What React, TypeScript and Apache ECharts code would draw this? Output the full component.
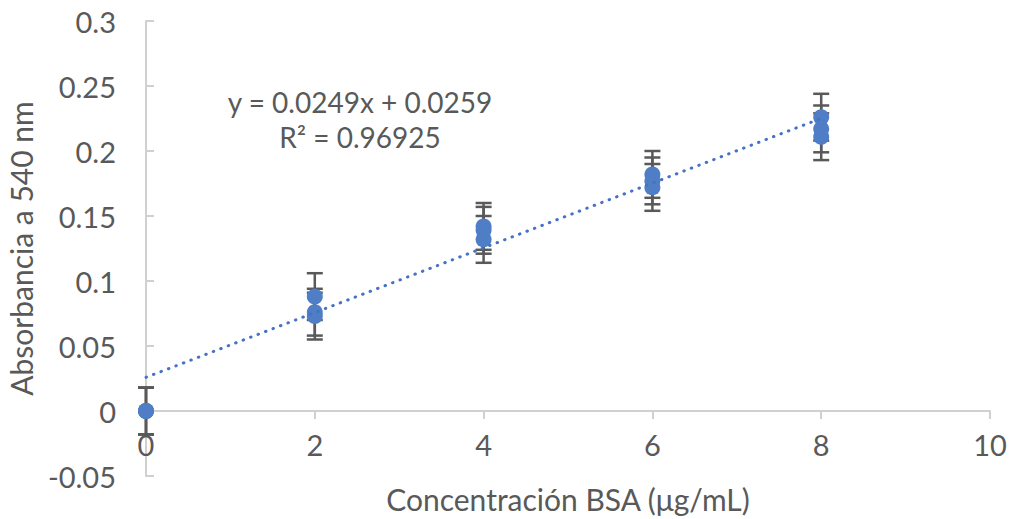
import React, { useEffect, useRef } from "react";
import * as echarts from "echarts";

const concX = [0, 0, 0, 2, 2, 2, 4, 4, 4, 6, 6, 6, 8, 8, 8];
const absY = [0, 0, 0, 0.088, 0.076, 0.073, 0.142, 0.139, 0.132, 0.182, 0.177, 0.172, 0.226, 0.217, 0.211];
const errVal = 0.018;
const slope = 0.0249;
const intercept = 0.0259;
const trendX = [0, 8];
const eqText = "y = 0.0249x + 0.0259";
const r2Text = "R² = 0.96925";

const FONT = "Lato";
const GREY = "#595959";

export default function App() {
  const ref = useRef<HTMLDivElement>(null);
  useEffect(() => {
    const chart = echarts.init(ref.current!, null, { renderer: "svg" });
    const pts = concX.map((x, i) => [x, absY[i]]);
    const errs = concX.map((x, i) => [x, absY[i], errVal]);
    const trend = trendX.map((x) => [x, slope * x + intercept]);
    chart.setOption({
      animation: false,
      grid: { left: 146, right: 19, top: 21, bottom: 43, outerBoundsMode: "none", containLabel: false },
      xAxis: {
        type: "value",
        min: 0,
        max: 10,
        interval: 2,
        name: "Concentración BSA (μg/mL)",
        nameLocation: "middle",
        nameGap: 6,
        nameTextStyle: { fontFamily: FONT, fontSize: 30, color: GREY, lineHeight: 34 },
        axisLine: { onZero: true, lineStyle: { color: "#d0d0d0", width: 2 } },
        axisTick: { show: true, length: 8, lineStyle: { color: "#d0d0d0", width: 2 } },
        axisLabel: { margin: -46, fontFamily: FONT, fontSize: 29, color: GREY },
        splitLine: { show: false },
      },
      yAxis: {
        type: "value",
        min: -0.05,
        max: 0.3,
        interval: 0.05,
        name: "Absorbancia a 540 nm",
        nameLocation: "middle",
        nameGap: 110,
        nameRotate: 90,
        nameTextStyle: { fontFamily: FONT, fontSize: 30, color: GREY },
        axisLine: { show: true, onZero: false, lineStyle: { color: "#d0d0d0", width: 2 } },
        axisTick: { show: true, inside: true, length: 8, lineStyle: { color: "#d0d0d0", width: 2 } },
        axisLabel: {
          margin: 30,
          fontFamily: FONT,
          fontSize: 29,
          color: GREY,
          formatter: (v: number) => String(Math.round(v * 100) / 100),
        },
        splitLine: { show: false },
      },
      series: [
        {
          type: "custom",
          data: errs,
          z: 2,
          renderItem: (params: any, api: any) => {
            const x = api.value(0);
            const y = api.value(1);
            const e = api.value(2);
            const top = api.coord([x, y + e]);
            const bot = api.coord([x, y - e]);
            const hw = 8;
            const style = { stroke: "#595959", lineWidth: 2.5 };
            return {
              type: "group",
              children: [
                { type: "line", shape: { x1: top[0], y1: top[1], x2: bot[0], y2: bot[1] }, style },
                { type: "line", shape: { x1: top[0] - hw, y1: top[1], x2: top[0] + hw, y2: top[1] }, style },
                { type: "line", shape: { x1: bot[0] - hw, y1: bot[1], x2: bot[0] + hw, y2: bot[1] }, style },
              ],
            };
          },
        },
        {
          type: "scatter",
          data: pts,
          symbol: "circle",
          symbolSize: 16,
          z: 3,
          itemStyle: { color: "#4f7ec6", opacity: 1 },
        },
        {
          type: "line",
          data: trend,
          symbol: "none",
          z: 4,
          lineStyle: { color: "#4472C4", width: 3, type: [0.5, 7.5], cap: "round" },
        },
      ],
      graphic: [
        {
          type: "text",
          x: 360,
          y: 102,
          style: { text: eqText, font: `28px ${FONT}`, fill: GREY, textAlign: "center", textVerticalAlign: "middle" },
        },
        {
          type: "text",
          x: 360,
          y: 137,
          style: { text: r2Text, font: `28px ${FONT}`, fill: GREY, textAlign: "center", textVerticalAlign: "middle" },
        },
      ],
    });
    return () => chart.dispose();
  }, []);
  return <div ref={ref} style={{ width: 1009, height: 519, position: "absolute", left: 0, top: 0 }} />;
}
